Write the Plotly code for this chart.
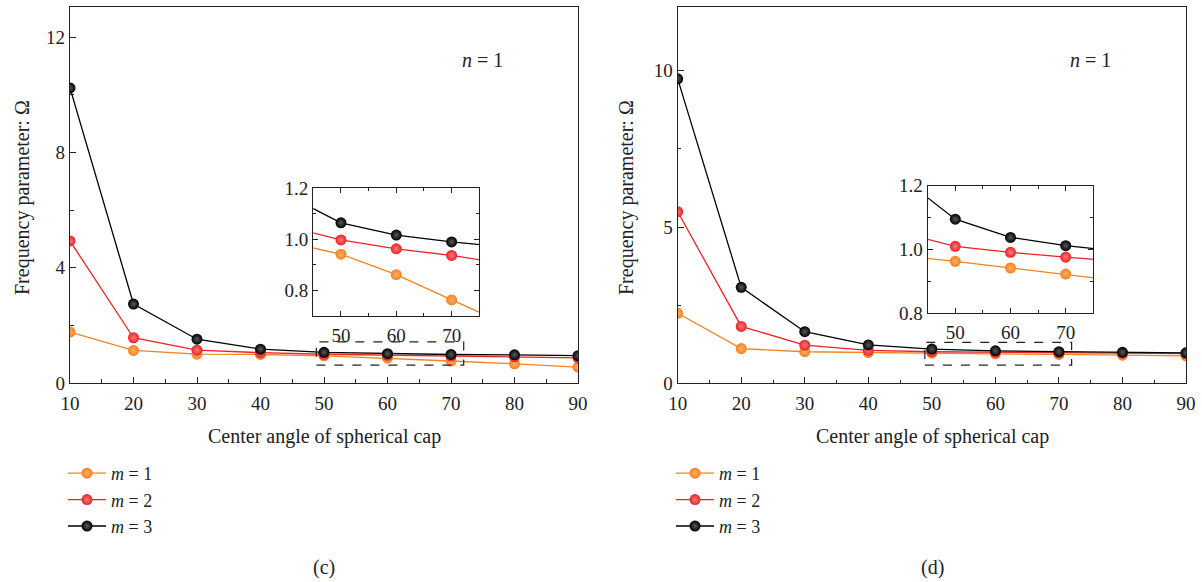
import plotly.graph_objects as go

# ---------------- data ----------------
angles = [10, 20, 30, 40, 50, 60, 70, 80, 90]

# panel (c)
c_m1 = [1.77, 1.13, 1.00, 0.99, 0.942, 0.862, 0.763, 0.667, 0.55]
c_m2 = [4.93, 1.57, 1.14, 1.052, 0.998, 0.963, 0.937, 0.911, 0.87]
c_m3 = [10.24, 2.74, 1.52, 1.175, 1.065, 1.017, 0.990, 0.978, 0.95]

# panel (d)
d_m1 = [2.24, 1.11, 1.01, 0.981, 0.963, 0.942, 0.923, 0.901, 0.88]
d_m2 = [5.49, 1.82, 1.22, 1.054, 1.010, 0.991, 0.976, 0.964, 0.95]
d_m3 = [9.74, 3.07, 1.65, 1.229, 1.095, 1.038, 1.012, 0.990, 0.975]

series_names = ["<i>m</i> = 1", "<i>m</i> = 2", "<i>m</i> = 3"]
series_colors = ["#F5821F", "#EC2227", "#000000"]
series_glow = ["#FBAF6A", "#F77A7A", "#5A5A5A"]

# zoom windows (dashed boxes) and inset ranges
c_box_x = [48.8, 72.0]
c_box_y = [0.62, 1.43]
d_box_x = [48.9, 72.0]
d_box_y = [0.58, 1.31]
inset_x_range = [45, 75]
c_inset_y_range = [0.7, 1.2]
d_inset_y_range = [0.8, 1.2]

FONT = "Liberation Serif"
W, H = 1202, 582

fig = go.Figure()

def add_series(ys, xa, ya, legend, show):
    for y, name, col, glow in zip(ys, series_names, series_colors, series_glow):
        fig.add_trace(go.Scatter(
            x=angles, y=y, name=name, mode="lines+markers",
            xaxis=xa, yaxis=ya, legend=legend, showlegend=show,
            line=dict(color=col, width=1.3),
            marker=dict(size=11, color=col, line=dict(width=0),
                        gradient=dict(type="radial", color=glow)),
        ))

add_series([c_m1, c_m2, c_m3], "x", "y", "legend", True)
add_series([d_m1, d_m2, d_m3], "x2", "y2", "legend2", True)
add_series([c_m1, c_m2, c_m3], "x3", "y3", "legend", False)
add_series([d_m1, d_m2, d_m3], "x4", "y4", "legend", False)

def px_x(p):
    return p / W

def px_y(p):
    return 1 - p / H

axis_common = dict(
    showline=True, linecolor="#222", linewidth=1.3, mirror=True,
    ticks="inside", ticklen=6, tickwidth=1.2, tickcolor="#222",
    showgrid=False, zeroline=False, automargin=False,
    tickfont=dict(family=FONT, size=19, color="#222"),
)
minor_common = dict(ticks="inside", ticklen=3.5, tickwidth=1.2, tickcolor="#222", showgrid=False)

inset_common = dict(axis_common)
inset_common["mirror"] = "ticks"
inset_common["ticklen"] = 5

legend_font = dict(family=FONT, size=18, color="#222")

fig.update_layout(
    width=W, height=H,
    margin=dict(l=0, r=0, t=0, b=0, pad=0, autoexpand=False),
    paper_bgcolor="white", plot_bgcolor="white",
    showlegend=True,
    xaxis=dict(axis_common, domain=[px_x(70), px_x(578)], range=[10, 90],
               tick0=10, dtick=10, minor=dict(minor_common, dtick=5), anchor="y",
               ticklabelstandoff=3),
    yaxis=dict(axis_common, domain=[px_y(383), px_y(7)], range=[0, 13.05],
               tick0=0, dtick=4, minor=dict(minor_common, dtick=2), anchor="x"),
    xaxis2=dict(axis_common, domain=[px_x(677.7), px_x(1186)], range=[10, 90],
                tick0=10, dtick=10, minor=dict(minor_common, dtick=5), anchor="y2",
                ticklabelstandoff=3),
    yaxis2=dict(axis_common, domain=[px_y(383.3), px_y(7.3)], range=[0, 12.03],
                tick0=0, dtick=5, minor=dict(minor_common, dtick=2.5), anchor="x2"),
    xaxis3=dict(inset_common, domain=[px_x(313.3), px_x(479.3)], range=inset_x_range,
                tick0=50, dtick=10, minor=dict(minor_common, dtick=5, ticklen=3), anchor="y3",
                ticklabelstandoff=2),
    yaxis3=dict(inset_common, domain=[px_y(316), px_y(188.3)], range=c_inset_y_range,
                tick0=0.8, dtick=0.2, tickformat=".1f",
                minor=dict(minor_common, dtick=0.1, ticklen=3), anchor="x3"),
    xaxis4=dict(inset_common, domain=[px_x(927.7), px_x(1093.3)], range=inset_x_range,
                tick0=50, dtick=10, minor=dict(minor_common, dtick=5, ticklen=3), anchor="y4",
                ticklabelstandoff=2),
    yaxis4=dict(inset_common, domain=[px_y(313.3), px_y(185.7)], range=d_inset_y_range,
                tick0=0.8, dtick=0.2, tickformat=".1f",
                minor=dict(minor_common, dtick=0.1, ticklen=3), anchor="x4"),
    legend=dict(x=px_x(63), y=px_y(455), xanchor="left", yanchor="top",
                font=legend_font, bgcolor="rgba(0,0,0,0)", itemwidth=38, tracegroupgap=0),
    legend2=dict(x=px_x(671), y=px_y(455), xanchor="left", yanchor="top",
                 font=legend_font, bgcolor="rgba(0,0,0,0)", itemwidth=38, tracegroupgap=0),
)

# dashed zoom boxes
fig.add_shape(type="rect", xref="x", yref="y", x0=c_box_x[0], x1=c_box_x[1],
              y0=c_box_y[0], y1=c_box_y[1], line=dict(color="#222", width=1.2, dash="dash"))
fig.add_shape(type="rect", xref="x2", yref="y2", x0=d_box_x[0], x1=d_box_x[1],
              y0=d_box_y[0], y1=d_box_y[1], line=dict(color="#222", width=1.2, dash="dash"))

ann_font = dict(family=FONT, size=20, color="#222")
annotations = [
    dict(text="<i>n</i> = 1", x=px_x(482), y=px_y(60)),
    dict(text="<i>n</i> = 1", x=px_x(1090), y=px_y(60)),
    dict(text="Center angle of spherical cap", x=px_x(324), y=px_y(436)),
    dict(text="Center angle of spherical cap", x=px_x(932), y=px_y(436)),
    dict(text="(c)", x=px_x(324), y=px_y(567)),
    dict(text="(d)", x=px_x(932), y=px_y(567)),
]
for a in annotations:
    fig.add_annotation(xref="paper", yref="paper", showarrow=False,
                       xanchor="center", yanchor="middle", font=ann_font, **a)
for xc in (22, 626):
    fig.add_annotation(xref="paper", yref="paper", showarrow=False,
                       x=px_x(xc), y=px_y(198), textangle=-90,
                       xanchor="center", yanchor="middle", font=ann_font,
                       text="Frequency parameter: Ω")

fig.write_html("out.html")
